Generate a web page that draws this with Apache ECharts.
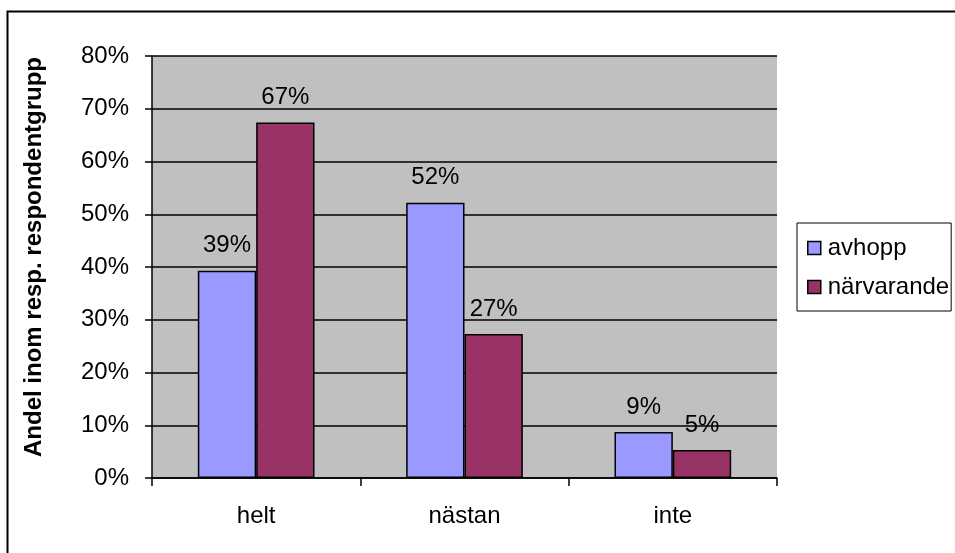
<!DOCTYPE html>
<html>
<head>
<meta charset="utf-8">
<script src="https://cdn.jsdelivr.net/npm/echarts@6/dist/echarts.min.js"></script>
<style>
  html, body { margin: 0; padding: 0; background: #fff; }
  #chart { width: 955px; height: 553px; }
</style>
</head>
<body>
<div id="chart"></div>
<script>
var categories = ["helt", "nästan", "inte"];
var avhopp = [39.3, 52.2, 8.7];
var narvarande = [67.4, 27.3, 5.3];

var myChart = echarts.init(document.getElementById("chart"));
var font = "Liberation Sans, Arial, sans-serif";

var option = {
  animation: false,
  textStyle: { fontFamily: font },
  graphic: [
    {
      type: "rect",
      shape: { x: 7.5, y: 11.5, width: 1000, height: 600 },
      style: { fill: "none", stroke: "#000", lineWidth: 2 },
      silent: true
    }
  ],
  grid: {
    left: 152,
    right: 178,
    top: 56,
    bottom: 75,
    show: true,
    backgroundColor: "#C0C0C0",
    borderColor: "#000",
    borderWidth: 0
  },
  legend: {
    orient: "vertical",
    left: 797,
    top: 223,
    itemWidth: 13,
    itemHeight: 13,
    itemGap: 15,
    padding: [13, 2, 12, 10],
    borderColor: "#000",
    borderWidth: 1,
    icon: "rect",
    textStyle: { fontSize: 24, color: "#000", fontFamily: font, padding: [0, 0, 0, 2] },
    data: [
      { name: "avhopp", itemStyle: { borderColor: "#000", borderWidth: 1.5 } },
      { name: "närvarande", itemStyle: { borderColor: "#000", borderWidth: 1.5 } }
    ]
  },
  xAxis: {
    type: "category",
    data: categories,
    axisLine: { lineStyle: { color: "#000", width: 1.5 } },
    axisTick: { show: true, length: 8, lineStyle: { color: "#000", width: 1.5 } },
    axisLabel: { fontSize: 24, color: "#000", margin: 26 },
    splitLine: { show: false }
  },
  yAxis: {
    type: "value",
    min: 0,
    max: 80,
    interval: 10,
    name: "Andel inom resp. respondentgrupp",
    nameLocation: "middle",
    nameGap: 106,
    nameTextStyle: { fontSize: 24, fontWeight: "bold", color: "#000", padding: [0, 0, 0, 20] },
    axisLine: { show: true, lineStyle: { color: "#000", width: 1.5 } },
    axisTick: { show: true, length: 7, lineStyle: { color: "#000", width: 1.5 } },
    axisLabel: {
      fontSize: 24,
      color: "#000",
      margin: 23,
      formatter: function (v) { return v + "%"; }
    },
    splitLine: { show: true, lineStyle: { color: "#000", width: 1.5 } }
  },
  series: [
    {
      name: "avhopp",
      type: "bar",
      data: avhopp,
      barGap: "0%",
      barCategoryGap: "44%",
      itemStyle: { color: "#9999FF", borderColor: "#000", borderWidth: 1.5 },
      label: {
        show: true,
        position: "top",
        distance: 13,
        fontSize: 24,
        color: "#000",
        formatter: function (p) { return Math.round(p.value) + "%"; }
      }
    },
    {
      name: "närvarande",
      type: "bar",
      data: narvarande,
      itemStyle: { color: "#993366", borderColor: "#000", borderWidth: 1.5 },
      label: {
        show: true,
        position: "top",
        distance: 13,
        fontSize: 24,
        color: "#000",
        formatter: function (p) { return Math.round(p.value) + "%"; }
      }
    }
  ]
};
myChart.setOption(option);
</script>
</body>
</html>
